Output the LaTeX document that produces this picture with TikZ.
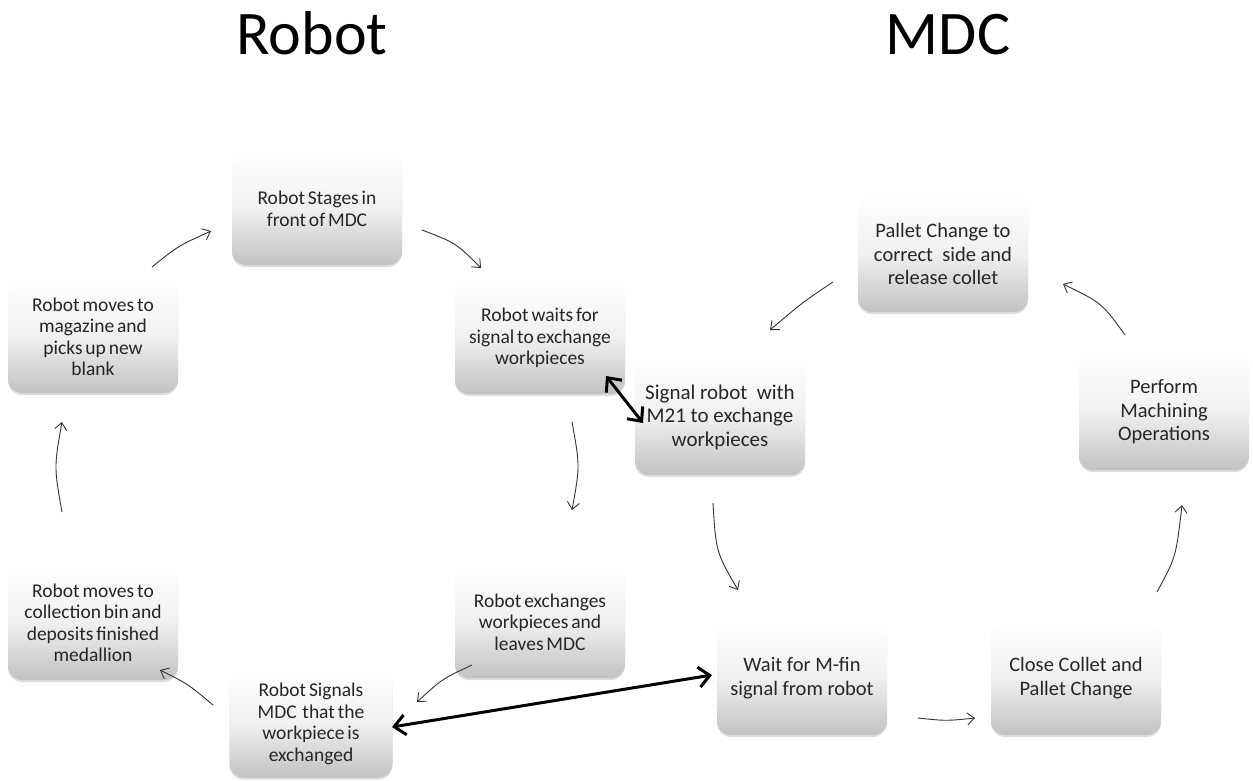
\documentclass[tikz,border=0pt]{standalone}
\usepackage{fontspec}
\setmainfont{Carlito}
\newfontfamily\tightfont[WordSpace=0.65]{Carlito}
\usetikzlibrary{arrows.meta,shadows}
\tikzset{
  box/.style={rounded corners=14pt, top color=white, bottom color=black!24,
    middle color=black!6, minimum width=170pt, minimum height=112pt,
    align=center, text=black!85, inner sep=2pt,
    drop shadow={shadow xshift=0pt, shadow yshift=-2pt, opacity=0.22, fill=black!60}},
  rtext/.style={font=\tightfont\fontsize{19.5}{21.5}\selectfont},
  mtext/.style={font=\fontsize{20.5}{23.5}\selectfont},
  btext/.style={font=\fontsize{21}{23.5}\selectfont},
  flow/.style={draw=black!80, line width=0.9pt, -{Straight Barb[length=7pt,width=12pt]}},
  link/.style={draw=black, line width=3pt, {Straight Barb[length=11pt,width=20pt]}-{Straight Barb[length=11pt,width=20pt]}},
  title/.style={font=\fontsize{62}{70}\selectfont, text=black, anchor=base}
}
\begin{document}
\begin{tikzpicture}[x=1pt,y=-1pt]
\useasboundingbox (0,0) rectangle (1253,780);
% titles
\node[title] (trobot) at (312,54) {Robot};
\node[title] (tmdc) at (948,54) {MDC};
% robot boxes
\node[box,rtext] (b1) at (317,209) {Robot Stages in\\front of MDC};
\node[box,rtext] (b2) at (93,337) {Robot moves to\\magazine and\\picks up new\\blank};
\node[box,rtext] (b3) at (540,338) {Robot waits for\\signal to exchange\\workpieces};
\node[box,rtext] (b6) at (540,622) {Robot exchanges\\workpieces and\\leaves MDC};
\node[box,rtext,minimum width=163pt,minimum height=107pt] (b7) at (311,724) {Robot Signals\\MDC\ \ that the\\workpiece is\\exchanged};
\node[box,rtext,minimum height=114pt] (b5) at (93,623) {Robot moves to\\collection bin and\\deposits finished\\medallion};
% MDC boxes
\node[box,btext,minimum height=116pt] (b4) at (720,417) {Signal robot\ \ with\\M21 to exchange\\workpieces};
\node[box,mtext,minimum height=114pt] (b8) at (802,678) {Wait for M-fin\\signal from robot};
\node[box,mtext,minimum height=114pt] (b9) at (1076,678) {Close Collet and\\Pallet Change};
\node[box,mtext,minimum height=116pt] (b10) at (1164,412) {Perform\\Machining\\Operations};
\node[box,mtext,minimum height=116pt] (b11) at (943,254) {Pallet Change to\\correct\ \ side and\\release collet};
% connector end points
\coordinate (a1s) at (152,267); \coordinate (a1e) at (211,231);
\coordinate (a2s) at (422,230); \coordinate (a2e) at (481,268);
\coordinate (a3s) at (572,422); \coordinate (a3e) at (572,510);
\coordinate (a4s) at (472,665); \coordinate (a4e) at (417,702);
\coordinate (a5s) at (213,705); \coordinate (a5e) at (160,670);
\coordinate (a6s) at (62,512);  \coordinate (a6e) at (62,422);
\coordinate (a7s) at (713,503); \coordinate (a7e) at (738,590);
\coordinate (a8s) at (918,718); \coordinate (a8e) at (975,718);
\coordinate (a9s) at (1157,592); \coordinate (a9e) at (1182,505);
\coordinate (a10s) at (1125,335); \coordinate (a10e) at (1063,284);
\coordinate (a11s) at (833,282); \coordinate (a11e) at (770,330);
\coordinate (l1s) at (606,376); \coordinate (l1e) at (643,423);
\coordinate (l2s) at (392,727); \coordinate (l2e) at (712,675);
% flow arrows
\draw[flow] (a1s) .. controls (178,246) .. (a1e);
\draw[flow] (a2s) .. controls (456,243) .. (a2e);
\draw[flow] (a3s) .. controls (580,466) .. (a3e);
\draw[flow] (a4s) .. controls (442,679) .. (a4e);
\draw[flow] (a5s) .. controls (188,684) .. (a5e);
\draw[flow] (a6s) .. controls (54,467) .. (a6e);
\draw[flow] (a7s) .. controls (716,552) .. (a7e);
\draw[flow] (a8s) .. controls (946,721) .. (a8e);
\draw[flow] (a9s) .. controls (1176,557) .. (a9e);
\draw[flow] (a10s) .. controls (1102,303) .. (a10e);
\draw[flow] (a11s) .. controls (803,302) .. (a11e);
% signal links
\draw[link] (l1s) -- (l1e);
\draw[link] (l2s) -- (l2e);
\end{tikzpicture}
\end{document}
